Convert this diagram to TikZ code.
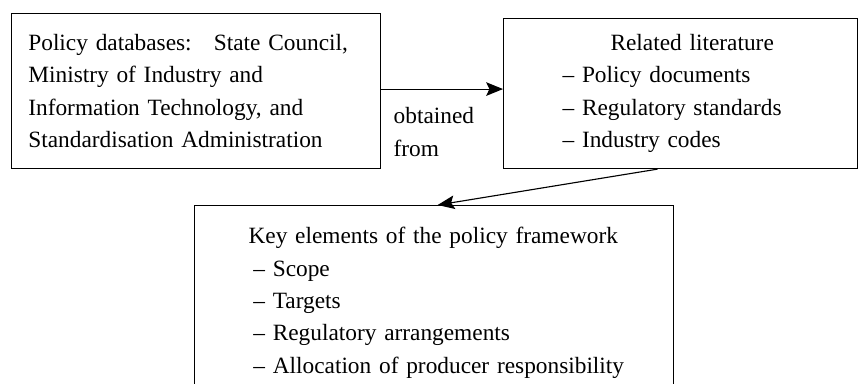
\documentclass[tikz,border=0pt]{standalone}
\usepackage{fontspec}
\setmainfont{Liberation Serif}
\usetikzlibrary{arrows.meta, positioning}

\begin{document}
\begin{tikzpicture}[font=\fontsize{16.6}{23}\selectfont,
    box/.style={draw, line width=0.8pt, align=left},
    link/.style={line width=0.8pt, -{Stealth[length=4.2mm, width=3.4mm, inset=0.8mm]}}]
    \useasboundingbox (0,0) rectangle (21.475,9.575);
    % source box on the left
    \node[box, anchor=north west, inner xsep=0.42cm, text width=8.385cm,
        minimum height=3.875cm] (src) at (0.275,9.25) {
        Policy databases:\hspace{0.45em} State Council,\\
        Ministry of Industry and\\
        Information Technology, and\\
        Standardisation Administration};
    % literature box on the right
    \node[box, anchor=north west, inner xsep=1.475cm, text width=5.9cm,
        minimum height=3.75cm] (lit) at (12.575,9.125) {
        \hspace*{1.2cm}Related literature\\
        -- Policy documents\\
        -- Regulatory standards\\
        -- Industry codes};
    % framework box, runs off the bottom
    \node[box, anchor=north west, inner xsep=1.35cm, inner ysep=0.55cm,
        text width=9.275cm] (key) at (4.85,4.45) {
        Key elements of the policy framework\\
        \hspace*{0.12cm}-- Scope\\
        \hspace*{0.12cm}-- Targets\\
        \hspace*{0.12cm}-- Regulatory arrangements\\
        \mbox{\hspace*{0.12cm}-- Allocation of producer responsibility}\\[0.3cm]};
    \draw[link] ([yshift=0.05cm]src.east) -- node[pos=0, anchor=north west, align=left, inner xsep=0.3cm, inner ysep=0.45cm] (via) {obtained\\from} ([yshift=0.05cm]src.east -| lit.west);
    \draw[link] ([xshift=-0.575cm]lit.south) -- ([xshift=0.09cm]key.north);
\end{tikzpicture}
\end{document}
